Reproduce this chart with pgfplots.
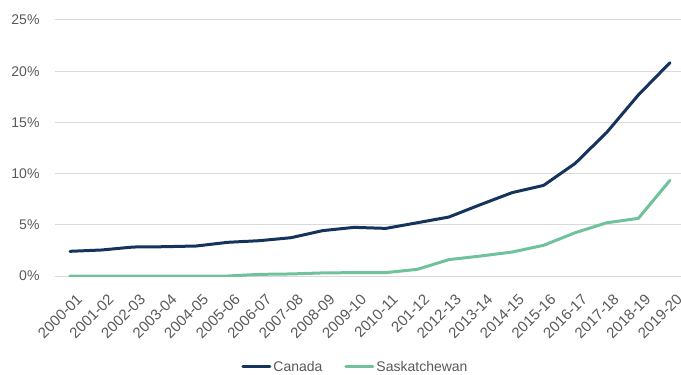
\documentclass[border=0pt]{standalone}
\usepackage{fontspec}
\setmainfont{Liberation Sans}
\usepackage{pgfplots}
\pgfplotsset{compat=1.18}

\definecolor{canada}{RGB}{20,52,94}
\definecolor{sask}{RGB}{112,194,154}
\definecolor{txt}{RGB}{89,89,89}
\definecolor{gridgray}{RGB}{217,217,217}

\begin{document}
\begin{tikzpicture}
% fix the page to the reference's 681x375 frame
\useasboundingbox (-55bp,-99bp) rectangle (626bp,276bp);
\begin{axis}[
    scale only axis,
    width=626bp, height=256bp,
    xmin=-0.475, xmax=19.35,
    ymin=0, ymax=25,
    axis line style={draw=none},
    tick style={draw=none},
    ymajorgrids,
    major grid style={gridgray, line width=1bp},
    ytick={0,5,10,15,20,25},
    yticklabel={\pgfmathprintnumber{\tick}\%},
    y tick label style={font=\fontsize{14bp}{16bp}\selectfont, text=txt, xshift=-12bp},
    xtick={0,...,19},
    xticklabels={2000-01,2001-02,2002-03,2003-04,2004-05,2005-06,2006-07,2007-08,2008-09,2009-10,2010-11,201-12,2012-13,2013-14,2014-15,2015-16,2016-17,2017-18,2018-19,2019-20},
    x tick label style={font=\fontsize{15bp}{17bp}\selectfont, text=txt, rotate=45, anchor=north east, inner sep=1bp, xshift=-7bp, yshift=-15bp},
    /pgf/number format/assume math mode=true,
    legend style={at={(0.48,-0.355)}, anchor=center, draw=none, fill=none,
        font=\fontsize{14bp}{16bp}\selectfont, text=txt, legend columns=2,
        /tikz/every even column/.append style={column sep=20bp}},
    legend image code/.code={\draw[#1] (0bp,0bp) -- (27bp,0bp);},
    every axis plot/.append style={line width=3bp, line join=round, line cap=round},
]
\addplot[canada] coordinates {
    (0,2.41) (1,2.54) (2,2.83) (3,2.86) (4,2.93) (5,3.29) (6,3.45) (7,3.74)
    (8,4.43) (9,4.75) (10,4.65) (11,5.20) (12,5.76) (13,6.97) (14,8.14)
    (15,8.85) (16,11.00) (17,14.03) (18,17.68) (19,20.83)
};
\addlegendentry{Canada}
\addplot[sask] coordinates {
    (0,0) (1,0) (2,0) (3,0) (4,0) (5,0) (6,0.16) (7,0.20)
    (8,0.30) (9,0.33) (10,0.33) (11,0.65) (12,1.60) (13,1.95) (14,2.34)
    (15,3.00) (16,4.23) (17,5.20) (18,5.63) (19,9.34)
};
\addlegendentry{Saskatchewan}
\end{axis}
\end{tikzpicture}
\end{document}
